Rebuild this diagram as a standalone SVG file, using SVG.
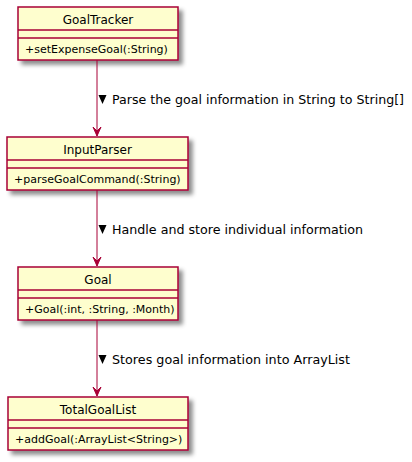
<svg xmlns="http://www.w3.org/2000/svg" width="412" height="462" viewBox="0 0 412 462">
<defs>
<filter id="sh" x="-10%" y="-20%" width="130%" height="160%">
<feGaussianBlur in="SourceAlpha" stdDeviation="2"/>
<feColorMatrix type="matrix" values="0 0 0 0 0  0 0 0 0 0  0 0 0 0 0  0 0 0 0.45 0"/>
<feOffset dx="4" dy="4" result="b"/>
<feMerge><feMergeNode in="b"/><feMergeNode in="SourceGraphic"/></feMerge>
</filter>
</defs>
<style>
.box{fill:#FEFECE;stroke:#A80036;stroke-width:1.5}
.div{stroke:#A80036;stroke-width:1.5}
.name{font-family:"DejaVu Sans",sans-serif;font-size:12px;fill:#000;text-anchor:middle}
.m{font-family:"DejaVu Sans",sans-serif;font-size:11px;fill:#000}
.lbl{font-family:"DejaVu Sans",sans-serif;font-size:13px;fill:#000}
.ln{stroke:#A80036;stroke-width:1;fill:none}
.ah{fill:#A80036;stroke:#A80036;stroke-width:1}
</style>
<rect width="412" height="462" fill="#FFFFFF"/>
<g id="GoalTracker">
<rect class="box" x="18" y="7" width="160" height="53" filter="url(#sh)"/>
<line class="div" x1="18" y1="30" x2="178" y2="30"/>
<line class="div" x1="18" y1="38" x2="178" y2="38"/>
<text class="name" x="98" y="23.5">GoalTracker</text>
<text class="m" x="25" y="53">+setExpenseGoal(:String)</text>
</g>
<g id="InputParser">
<rect class="box" x="7" y="137" width="181" height="53" filter="url(#sh)"/>
<line class="div" x1="7" y1="160" x2="188" y2="160"/>
<line class="div" x1="7" y1="168" x2="188" y2="168"/>
<text class="name" x="97.5" y="153.5">InputParser</text>
<text class="m" x="14" y="183">+parseGoalCommand(:String)</text>
</g>
<g id="Goal">
<rect class="box" x="18" y="267" width="160" height="53" filter="url(#sh)"/>
<line class="div" x1="18" y1="290" x2="178" y2="290"/>
<line class="div" x1="18" y1="298" x2="178" y2="298"/>
<text class="name" x="98" y="283.5">Goal</text>
<text class="m" x="25" y="313">+Goal(:int, :String, :Month)</text>
</g>
<g id="TotalGoalList">
<rect class="box" x="8" y="397" width="180" height="53" filter="url(#sh)"/>
<line class="div" x1="8" y1="420" x2="188" y2="420"/>
<line class="div" x1="8" y1="428" x2="188" y2="428"/>
<text class="name" x="98" y="413.5">TotalGoalList</text>
<text class="m" x="15" y="443">+addGoal(:ArrayList&lt;String&gt;)</text>
</g>
<g id="connectors">
<path class="ln" d="M97,60 L97,136"/>
<polygon class="ah" points="97,136 93,127 97,131 101,127"/>
<polygon fill="#000" points="98.5,95 106.5,95 102.5,104"/>
<text class="lbl" x="112" y="104" textLength="292" lengthAdjust="spacingAndGlyphs">Parse the goal information in String to String[]</text>
<path class="ln" d="M97,190 L97,266"/>
<polygon class="ah" points="97,266 93,257 97,261 101,257"/>
<polygon fill="#000" points="98.5,225 106.5,225 102.5,234"/>
<text class="lbl" x="112" y="234" textLength="251" lengthAdjust="spacingAndGlyphs">Handle and store individual information</text>
<path class="ln" d="M97,320 L97,396"/>
<polygon class="ah" points="97,396 93,387 97,391 101,387"/>
<polygon fill="#000" points="98.5,355 106.5,355 102.5,364"/>
<text class="lbl" x="112" y="364" textLength="238" lengthAdjust="spacingAndGlyphs">Stores goal information into ArrayList</text>
</g>
</svg>
